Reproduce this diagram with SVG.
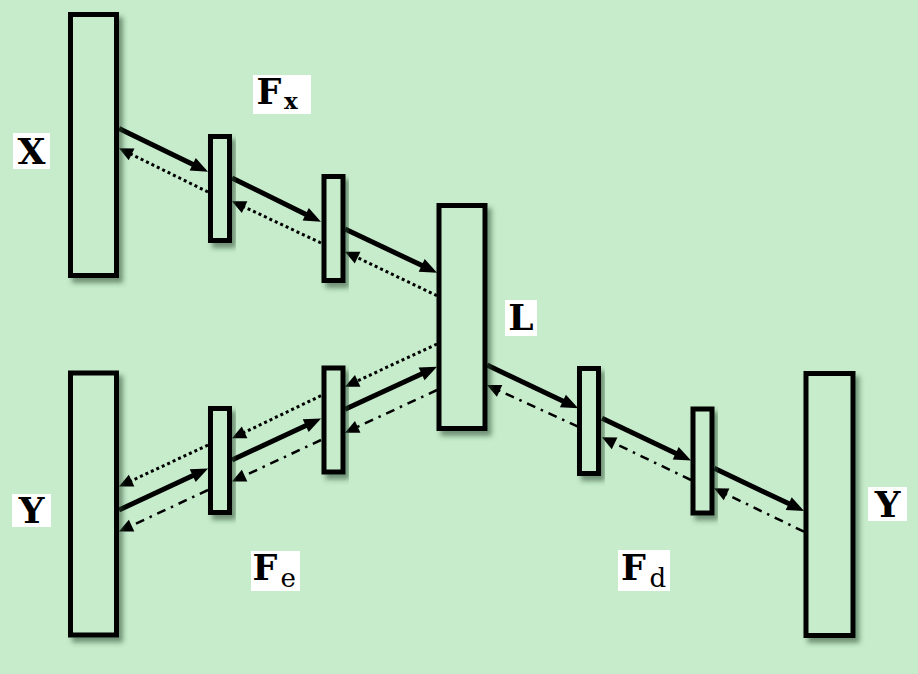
<svg xmlns="http://www.w3.org/2000/svg" width="918" height="674" viewBox="0 0 918 674">
<style>
.box{fill:#C6ECCB;stroke:#000;stroke-width:5;filter:url(#sh)}
.lbl{fill:#fff}
.t{font-family:"DejaVu Serif","Liberation Serif",serif;font-weight:bold;fill:#000}
.r{font-family:"DejaVu Serif","Liberation Serif",serif;font-weight:normal;fill:#000}
.s{stroke:#000;stroke-width:5;fill:none}
.d{stroke:#000;stroke-width:3;fill:none;stroke-dasharray:3 3}
.dd{stroke:#000;stroke-width:2.5;fill:none;stroke-dasharray:9 6 2.5 6}
</style>
<defs>
<filter id="sh" x="-30%" y="-10%" width="160%" height="130%">
<feDropShadow dx="4" dy="5" stdDeviation="2.5" flood-color="#2a4a2e" flood-opacity="0.55"/>
</filter>
<marker id="ab" markerUnits="userSpaceOnUse" markerWidth="18" markerHeight="16" refX="0" refY="7" orient="auto" overflow="visible">
<path d="M-1,0 L16,7 L-1,14 Z" fill="#000"/>
</marker>
<marker id="as" markerUnits="userSpaceOnUse" markerWidth="14" markerHeight="14" refX="0" refY="6.5" orient="auto" overflow="visible">
<path d="M-1,0 L13,6.5 L-1,13 Z" fill="#000"/>
</marker>
</defs>
<rect width="918" height="674" fill="#C6ECCB"/>
<g id="connectors">
<line class="s" x1="119" y1="128.5" x2="193.6" y2="164.7" marker-end="url(#ab)"/>
<line class="d" x1="208" y1="192" x2="130.7" y2="154" marker-end="url(#as)"/>
<line class="s" x1="232" y1="178" x2="306.6" y2="214.7" marker-end="url(#ab)"/>
<line class="d" x1="321" y1="243" x2="243.7" y2="206.7" marker-end="url(#as)"/>
<line class="s" x1="345" y1="229" x2="422.6" y2="265.8" marker-end="url(#ab)"/>
<line class="d" x1="437" y1="295.7" x2="356.7" y2="257.3" marker-end="url(#as)"/>
<line class="d" x1="437" y1="344" x2="356.8" y2="381.2" marker-end="url(#as)"/>
<line class="s" x1="345" y1="409.3" x2="422.5" y2="373.4" marker-end="url(#ab)"/>
<line class="dd" x1="437" y1="390" x2="356.8" y2="427.2" marker-end="url(#as)"/>
<line class="d" x1="321" y1="395.7" x2="243.7" y2="432.7" marker-end="url(#as)"/>
<line class="s" x1="232" y1="460" x2="306.6" y2="425.2" marker-end="url(#ab)"/>
<line class="dd" x1="321" y1="440" x2="243.7" y2="476.1" marker-end="url(#as)"/>
<line class="d" x1="208" y1="445" x2="130.7" y2="481.1" marker-end="url(#as)"/>
<line class="s" x1="119" y1="510" x2="193.6" y2="475.2" marker-end="url(#ab)"/>
<line class="dd" x1="208" y1="490" x2="130.7" y2="526.1" marker-end="url(#as)"/>
<line class="s" x1="487" y1="365" x2="563.8" y2="401.4" marker-end="url(#ab)"/>
<line class="dd" x1="578" y1="426.7" x2="498.7" y2="390.4" marker-end="url(#as)"/>
<line class="s" x1="602" y1="418.3" x2="676.6" y2="453.7" marker-end="url(#ab)"/>
<line class="dd" x1="691" y1="480" x2="613.7" y2="442.9" marker-end="url(#as)"/>
<line class="s" x1="714.3" y1="468.3" x2="789.6" y2="504.1" marker-end="url(#ab)"/>
<line class="dd" x1="804" y1="531.7" x2="725.7" y2="493.9" marker-end="url(#as)"/>
</g>
<g id="X"><rect class="box" x="70.5" y="14.5" width="46" height="261"/></g>
<g id="Fx1"><rect class="box" x="210.5" y="136.5" width="19" height="104"/></g>
<g id="Fx2"><rect class="box" x="324" y="176.5" width="19" height="104"/></g>
<g id="L"><rect class="box" x="439" y="205.5" width="46" height="223"/></g>
<g id="Yin"><rect class="box" x="70.5" y="373" width="46" height="262"/></g>
<g id="Fe1"><rect class="box" x="210.5" y="408.5" width="19" height="104"/></g>
<g id="Fe2"><rect class="box" x="324" y="368" width="19" height="104"/></g>
<g id="Fd1"><rect class="box" x="579.5" y="368.5" width="19" height="105"/></g>
<g id="Fd2"><rect class="box" x="693" y="409" width="19" height="104"/></g>
<g id="Yout"><rect class="box" x="806" y="373.5" width="47" height="262"/></g>
<g id="label-X"><rect class="lbl" x="13" y="133" width="37" height="36"/><text class="t" x="31.5" y="164" font-size="36" text-anchor="middle">X</text></g>
<g id="label-Fx"><rect class="lbl" x="253" y="75" width="58" height="39"/><text class="t" x="256.5" y="104" font-size="35">F</text><text class="t" x="284" y="109.3" font-size="23">x</text></g>
<g id="label-L"><rect class="lbl" x="505" y="300" width="32" height="36"/><text class="t" x="521" y="330" font-size="36" text-anchor="middle">L</text></g>
<g id="label-Yin"><rect class="lbl" x="12" y="494" width="39" height="33"/><text class="t" x="31.5" y="523" font-size="36" text-anchor="middle">Y</text></g>
<g id="label-Fe"><rect class="lbl" x="251" y="551" width="49" height="40"/><text class="t" x="252.5" y="580" font-size="35">F</text><text class="r" x="280.5" y="586.5" font-size="26">e</text></g>
<g id="label-Yout"><rect class="lbl" x="868" y="487" width="39" height="34"/><text class="t" x="887.5" y="517" font-size="36" text-anchor="middle">Y</text></g>
<g id="label-Fd"><rect class="lbl" x="618" y="550" width="52" height="41"/><text class="t" x="621" y="580" font-size="35">F</text><text class="r" x="649.5" y="586.5" font-size="26">d</text></g>
</svg>
